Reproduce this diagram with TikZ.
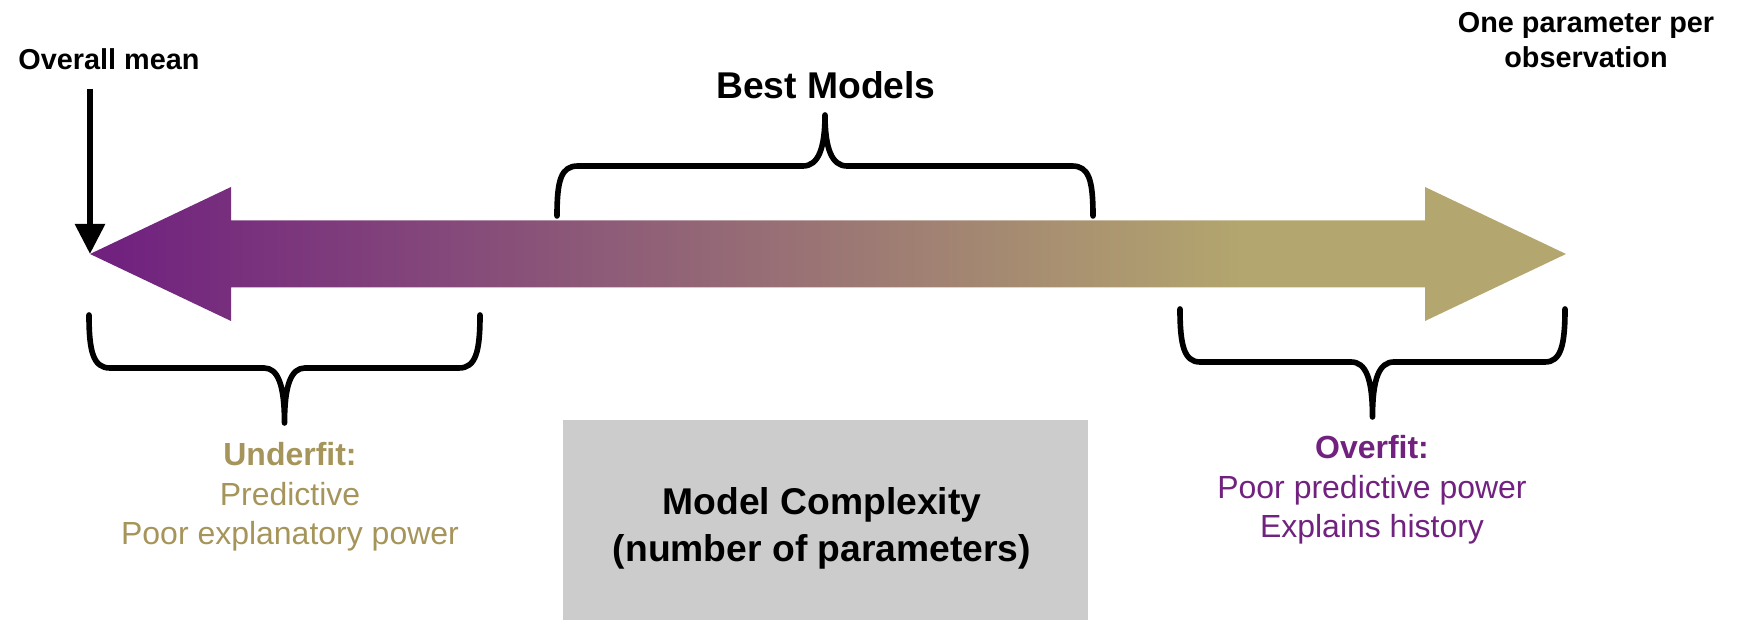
\documentclass[tikz,border=0pt]{standalone}
\usepackage{fontspec}
\setmainfont{Liberation Sans}
\usetikzlibrary{arrows.meta}

\definecolor{fitpurple}{HTML}{71227F}
\definecolor{fittan}{HTML}{B3A66E}
\definecolor{fitgold}{HTML}{A6955A}
\definecolor{boxgray}{HTML}{CCCCCC}

\pgfdeclarehorizontalshading{complexity}{100bp}{color(0bp)=(fitpurple); color(26bp)=(fitpurple); color(64bp)=(fittan); color(100bp)=(fittan)}

\tikzstyle{curly} = [line width=1.6pt,line cap=round,line join=round]
\tikzstyle{pointer} = [line width=1.7pt,-{Triangle[width=0.29cm,length=0.30cm]}]
\tikzstyle{headtext} = [font=\bfseries\fontsize{8.2}{10}\selectfont,align=center]
\tikzstyle{bigtext} = [font=\bfseries\fontsize{10.6}{13.4}\selectfont,align=center]
\tikzstyle{fittext} = [font=\fontsize{9.1}{11.2}\selectfont,align=center]

\begin{document}
\begin{tikzpicture}

\useasboundingbox (0,0) rectangle (17.4,6.21);

% Double arrow
\coordinate (tipL) at (0.90,3.67);
\coordinate (tipR) at (15.66,3.67);
\shade [shading=complexity] (tipL) -- (2.31,4.34) -- (2.31,4.005) -- (14.25,4.005) -- (14.25,4.34)
  -- (tipR) -- (14.25,3.00) -- (14.25,3.335) -- (2.31,3.335) -- (2.31,3.00) -- cycle;

% Ends of the scale
\node [headtext] (mean) at (1.09,5.62) {Overall mean};
\draw [pointer] ([yshift=-0.07cm]mean.south -| tipL) -- (tipL);
\node [headtext] (perobs) at (15.86,5.81) {One parameter per\\observation};

% Best models
\node [bigtext] (best) at (8.26,5.36) {Best Models};
\draw [curly] (5.57,4.05) .. controls (5.57,4.41) and (5.61,4.55) .. (5.78,4.55) -- (8.03,4.55)
  .. controls (8.18,4.55) and (8.25,4.72) .. (8.25,5.06)
  .. controls (8.25,4.72) and (8.32,4.55) .. (8.47,4.55) -- (10.72,4.55)
  .. controls (10.89,4.55) and (10.93,4.41) .. (10.93,4.05);

% Underfit
\draw [curly] (0.89,3.06) .. controls (0.89,2.70) and (0.93,2.53) .. (1.10,2.53) -- (2.64,2.53)
  .. controls (2.78,2.53) and (2.845,2.36) .. (2.845,1.98)
  .. controls (2.845,2.36) and (2.91,2.53) .. (3.05,2.53) -- (4.59,2.53)
  .. controls (4.76,2.53) and (4.80,2.70) .. (4.80,3.06);
\node [fittext,text=fitgold] (under) at (2.90,1.24) {\textbf{Underfit:}\\Predictive\\Poor explanatory power};

% Overfit
\draw [curly] (11.80,3.12) .. controls (11.80,2.76) and (11.84,2.59) .. (12.00,2.59) -- (13.51,2.59)
  .. controls (13.66,2.59) and (13.725,2.42) .. (13.725,2.04)
  .. controls (13.725,2.42) and (13.79,2.59) .. (13.94,2.59) -- (15.45,2.59)
  .. controls (15.61,2.59) and (15.65,2.76) .. (15.65,3.12);
\node [fittext,text=fitpurple] (over) at (13.72,1.31) {\textbf{Overfit:}\\Poor predictive power\\Explains history};

% Model complexity box
\node [fill=boxgray,minimum width=5.25cm,minimum height=2cm,anchor=south] (cplx) at (8.255,0) {};
\node [bigtext] (cplxtext) at (8.22,0.93) {Model Complexity\\(number of parameters)};

\end{tikzpicture}
\end{document}
